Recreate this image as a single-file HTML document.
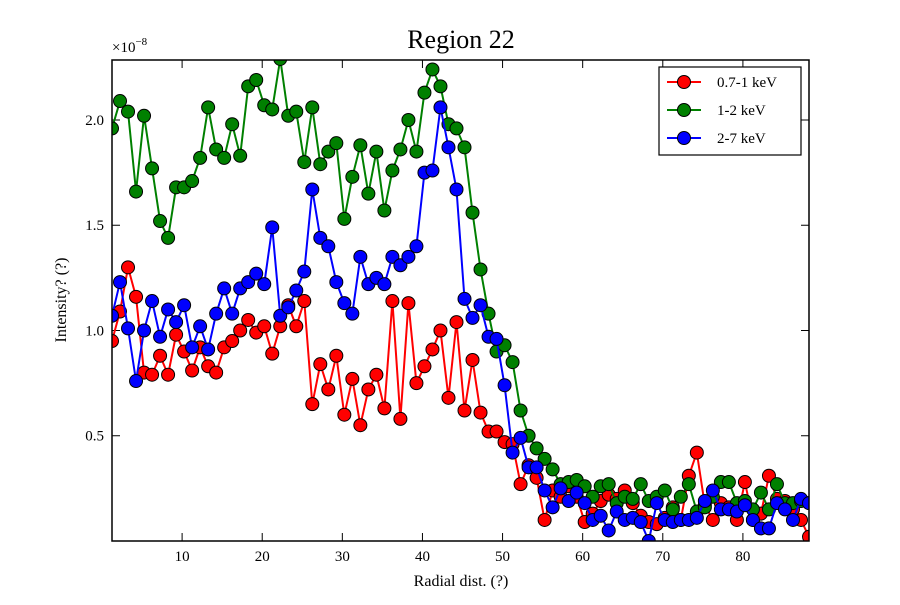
<!DOCTYPE html>
<html><head><meta charset="utf-8"><style>
body{margin:0;background:#fff}
svg{font-family:"Liberation Serif",serif}
</style></head><body>
<svg id="chart" width="900" height="600">
<rect width="900" height="600" fill="#fff"/>
<text x="461" y="48" font-size="26" text-anchor="middle">Region 22</text>
<text x="112" y="52" font-size="15">×10<tspan dy="-7" font-size="11">−8</tspan></text>
<text x="461" y="586" font-size="16" text-anchor="middle">Radial dist. (?)</text>
<text x="66" y="300" font-size="16" text-anchor="middle" transform="rotate(-90 66 300)">Intensity? (?)</text>
<g id="ticks"></g>
<g id="series"></g>
<rect x="112" y="60" width="697" height="481" fill="none" stroke="#000" stroke-width="1.5"/>
<g>
<rect x="659" y="67" width="142" height="88" fill="#fff" stroke="#000" stroke-width="1.2"/>
<g><line x1="667" y1="82" x2="701" y2="82" stroke="red" stroke-width="2"/><circle cx="684" cy="82" r="6.5" fill="red" stroke="#000"/><text x="717" y="87" font-size="15">0.7-1 keV</text></g>
<g><line x1="667" y1="110" x2="701" y2="110" stroke="green" stroke-width="2"/><circle cx="684" cy="110" r="6.5" fill="green" stroke="#000"/><text x="717" y="115" font-size="15">1-2 keV</text></g>
<g><line x1="667" y1="138" x2="701" y2="138" stroke="blue" stroke-width="2"/><circle cx="684" cy="138" r="6.5" fill="blue" stroke="#000"/><text x="717" y="143" font-size="15">2-7 keV</text></g>
</g>
</svg>
<script>
const xTicks=[10,20,30,40,50,60,70,80];
const yTicks=[0.5,1.0,1.5,2.0];
const yTickLabels=["0.5","1.0","1.5","2.0"];
const red=[0.95,1.09,1.30,1.16,0.80,0.79,0.88,0.79,0.98,0.90,0.81,0.92,0.83,0.80,0.92,0.95,1.00,1.05,0.99,1.02,0.89,1.02,1.12,1.02,1.14,0.65,0.84,0.72,0.88,0.60,0.77,0.55,0.72,0.79,0.63,1.14,0.58,1.13,0.75,0.83,0.91,1.00,0.68,1.04,0.62,0.86,0.61,0.52,0.52,0.47,0.46,0.27,0.36,0.30,0.10,0.24,0.21,0.26,0.21,0.09,0.13,0.19,0.22,0.20,0.24,0.18,0.12,0.09,0.08,0.11,0.16,0.10,0.31,0.42,0.17,0.10,0.18,0.16,0.10,0.28,0.10,0.13,0.31,0.20,0.19,0.15,0.10,0.02];
const green=[1.96,2.09,2.04,1.66,2.02,1.77,1.52,1.44,1.68,1.68,1.71,1.82,2.06,1.86,1.82,1.98,1.83,2.16,2.19,2.07,2.05,2.29,2.02,2.04,1.80,2.06,1.79,1.85,1.89,1.53,1.73,1.88,1.65,1.85,1.57,1.76,1.86,2.00,1.85,2.13,2.24,2.16,1.98,1.96,1.87,1.56,1.29,1.08,0.90,0.93,0.85,0.62,0.50,0.44,0.39,0.34,0.27,0.28,0.29,0.26,0.21,0.26,0.27,0.18,0.21,0.20,0.27,0.19,0.21,0.24,0.15,0.21,0.27,0.14,0.16,0.21,0.28,0.28,0.18,0.19,0.15,0.23,0.15,0.27,0.18,0.18,0.19,0.18];
const blue=[1.07,1.23,1.01,0.76,1.00,1.14,0.97,1.10,1.04,1.12,0.92,1.02,0.91,1.08,1.20,1.08,1.20,1.23,1.27,1.22,1.49,1.07,1.11,1.19,1.28,1.67,1.44,1.40,1.23,1.13,1.08,1.35,1.22,1.25,1.22,1.35,1.31,1.35,1.40,1.75,1.76,2.06,1.87,1.67,1.15,1.06,1.12,0.97,0.96,0.74,0.42,0.49,0.35,0.35,0.24,0.16,0.25,0.19,0.23,0.18,0.10,0.12,0.05,0.14,0.10,0.11,0.09,0.00,0.18,0.10,0.09,0.10,0.10,0.11,0.19,0.24,0.15,0.15,0.14,0.17,0.10,0.06,0.06,0.18,0.15,0.10,0.20,0.18];
const X0=1.25,X1=88.25,Y0=0,Y1=2.285,L=112,R=809,T=60,B=541;
const xs=v=>L+(v-X0)/(X1-X0)*(R-L);
const ys=v=>B-(v-Y0)/(Y1-Y0)*(B-T);
const NS="http://www.w3.org/2000/svg";
const tg=document.getElementById('ticks');
function mk(tag,attrs,parent){const e=document.createElementNS(NS,tag);for(const k in attrs)e.setAttribute(k,attrs[k]);parent.appendChild(e);return e;}
xTicks.forEach(t=>{const x=xs(t);
 const l1=mk('line',{x1:x,x2:x,y1:B,y2:B-8,stroke:'#000'},tg);
 
 
 mk('line',{x1:x,x2:x,y1:T,y2:T+8,stroke:'#000'},tg);
 const tx=mk('text',{x:x,y:B+20,'font-size':15,'text-anchor':'middle'},tg);tx.textContent=t;
 
 });
yTicks.forEach((t,i)=>{const y=ys(t);
 const l1=mk('line',{x1:L,x2:L+8,y1:y,y2:y,stroke:'#000'},tg);
 
 
 mk('line',{x1:R,x2:R-8,y1:y,y2:y,stroke:'#000'},tg);
 const tx=mk('text',{x:L-8,y:y+5,'font-size':15,'text-anchor':'end'},tg);tx.textContent=yTickLabels[i];
 
 });
const sg=document.getElementById('series');
[[red,'red','red'],[green,'green','green'],[blue,'blue','blue']].forEach(([d,c,n])=>{
 const g=mk('g',{'clip-path':'url(#clip)'},sg);
 
 
 const pts=d.map((v,i)=>xs(X0+i)+','+ys(v)).join(' ');
 const pl=mk('polyline',{points:pts,fill:'none',stroke:c,'stroke-width':2},g);
 
 
 d.forEach((v,i)=>{const p=mk('circle',{cx:xs(X0+i),cy:ys(v),r:6.5,fill:c,stroke:'#000','stroke-width':1},g);
 
 });
});
const defs=mk('defs',{},document.getElementById('chart'));
const cp=mk('clipPath',{id:'clip'},defs);
mk('rect',{x:L,y:T,width:R-L,height:B-T},cp);
</script>
</body></html>
